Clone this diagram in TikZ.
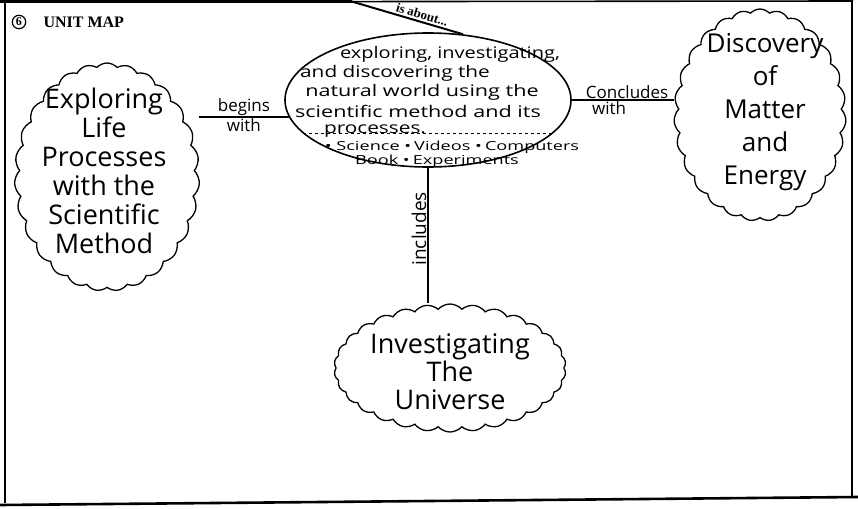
\documentclass[tikz,border=0pt]{standalone}
\usepackage{fontspec}
\setmainfont{Open Sans}
\newfontfamily\serifb{Liberation Serif}
\usetikzlibrary{shapes.geometric,shapes.symbols}
\begin{document}
\begin{tikzpicture}[x=1pt,y=-1pt,
  cloudbox/.style={shape=cloud, draw, line width=1.3pt, cloud puffs=27, cloud puff arc=95, cloud ignores aspect, inner sep=0pt},
  cloudtext/.style={align=center, font=\fontsize{27}{29}\selectfont, inner sep=0pt},
  etext/.style={inner sep=0pt, font=\fontsize{16}{18}\selectfont},
  btext/.style={inner sep=0pt, font=\fontsize{12.5}{14}\selectfont},
  linklabel/.style={font=\fontsize{17}{18}\selectfont, inner sep=1pt},
  conn/.style={line width=1.2pt},
  frameline/.style={line width=1.6pt}]
\useasboundingbox (0,0) rectangle (858,508);
% frame
\draw[frameline] (0,2) -- (853,1);
\draw[line width=3pt] (0,1.5) -- (352,1.5);
\draw[frameline] (5,2) -- (5,503);
\draw[frameline] (852,1) -- (852,497);
\draw[line width=2.6pt] (0,505) -- (858,497);
% title
\node[circle, draw, line width=1.2pt, inner sep=1.2pt, font=\serifb\bfseries\fontsize{12}{13}\selectfont] (six) at (19,22) {6};
\node[anchor=west, font=\serifb\bfseries\fontsize{16}{18}\selectfont] (title) at (40,22) {UNIT MAP};
% central ellipse
\node[ellipse, draw, line width=1.6pt, minimum width=286pt, minimum height=134pt, inner sep=0pt] (center) at (428,100) {};
\node[etext] (l1) at (450,54) {\scalebox{1.25}[1]{exploring, investigating,}};
\node[etext] (l2) at (395,73) {\scalebox{1.3}[1]{and discovering the}};
\node[etext] (l3) at (422,92) {\scalebox{1.35}[1]{natural world using the}};
\node[etext] (l4) at (418,111) {\scalebox{1.35}[1]{scientific method and its}};
\node[etext] (l5) at (375,131) {\scalebox{1.3}[1]{processes.}};
\draw[dashed, line width=0.8pt] (center.195) -- (center.-15);
\node[btext] (tools1) at (452,147) {\scalebox{1.45}[1]{• Science •\,Videos •\,Computers}};
\node[btext] (tools2) at (437,161) {\scalebox{1.45}[1]{Book •\,Experiments}};
% is about
\coordinate (topend) at (350,1);
\draw[line width=2pt] (topend) -- node[sloped, above, pos=0.62, inner sep=2pt, font=\serifb\bfseries\fontsize{13}{14}\selectfont] (isabout) {is about...} (center.62);
% clouds
\node[cloudbox, minimum width=185pt, minimum height=228pt] (life) at (107,177) {};
\node[cloudtext] (lifet) at (104,171) {Exploring\\Life\\Processes\\with the\\Scientific\\Method};
\node[cloudbox, minimum width=172pt, minimum height=212pt] (matter) at (760,115) {};
\node[cloudtext, font=\fontsize{26}{33}\selectfont] (mattert) at (765,112) {Discovery\\of\\Matter\\and\\Energy};
\node[cloudbox, cloud puffs=30, minimum width=232pt, minimum height=128pt] (univ) at (450,368) {};
\node[cloudtext, font=\fontsize{27}{28}\selectfont] (univt) at (450,372) {Investigating\\The\\Universe};
% connectors
\draw[conn] (center.187) -- node[linklabel, above] (begins) {begins} node[linklabel, below] (with1) {with} (center.187 -| life.east);
\draw[conn] (center.east) -- node[linklabel, above, xshift=4pt] (concl) {Concludes} node[linklabel, below, xshift=-14pt] (with2) {with} (center.east -| matter.west);
\draw[conn] (center.south) -- node[linklabel, pos=0.45, rotate=90, anchor=south, font=\fontsize{19}{20}\selectfont] (incl) {includes} (center.south |- univ.north);
\end{tikzpicture}
\end{document}
